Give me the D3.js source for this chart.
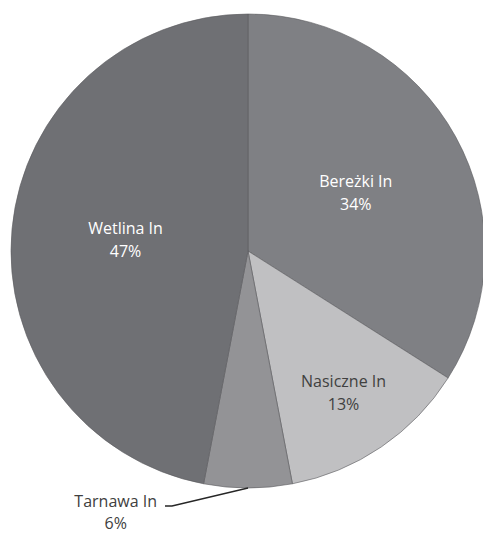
<!DOCTYPE html>
<html>
<head>
<meta charset="utf-8">
<script src="https://cdn.jsdelivr.net/npm/d3@7"></script>
<style>
  body { margin: 0; background: #fff; }
  svg text { font-family: "Open Sans", sans-serif; font-size: 16px; }
</style>
</head>
<body>
<svg id="chart" width="483" height="534"></svg>
<script>
var names = ["Bereżki In", "Nasiczne In", "Tarnawa In", "Wetlina In"];
var shares = [34, 13, 6, 47];
var colors = ["#7f8084", "#c0c0c2", "#939396", "#6f7074"];

var svg = d3.select("#chart"),
  cx = 248,
  cy = 251,
  radius = 237;

var data = names.map((n, i) => ({ name: n, value: shares[i], color: colors[i] }));

var pie = d3.pie().sort(null).value(d => d.value);
var arcs = pie(data);

var arc = d3.arc().innerRadius(0).outerRadius(radius);

var g = svg.append("g").attr("transform", `translate(${cx},${cy})`);

g.selectAll("path")
  .data(arcs)
  .enter()
  .append("path")
  .attr("d", arc)
  .attr("fill", d => d.data.color)
  .attr("stroke", "#5a5a5e")
  .attr("stroke-width", 0.6);

// label distance from centre for each slice (inside ones), Tarnawa goes outside
var labelR = { "Bereżki In": 123, "Nasiczne In": 170, "Wetlina In": 123 };
var textColor = { "Bereżki In": "#fff", "Wetlina In": "#fff", "Nasiczne In": "#404040" };

arcs.filter(d => labelR[d.data.name]).forEach(function(d) {
  var a = (d.startAngle + d.endAngle) / 2;
  var r = labelR[d.data.name];
  var x = Math.sin(a) * r, y = -Math.cos(a) * r;
  var t = g.append("text")
    .attr("text-anchor", "middle")
    .attr("fill", textColor[d.data.name]);
  t.append("tspan").attr("x", x).attr("y", y - 5).text(d.data.name);
  t.append("tspan").attr("x", x).attr("y", y + 18).text(d.data.value + "%");
});

// outside label with leader line
var out = arcs.find(d => d.data.name == "Tarnawa In");
var oa = (out.startAngle + out.endAngle) / 2;
var p0 = [Math.sin(oa) * radius, -Math.cos(oa) * radius];
var p1 = [172 - cx, 506 - cy];
var p2 = [165 - cx, 506 - cy];

g.append("polyline")
  .attr("points", [p0, p1, p2].map(p => p.join(",")).join(" "))
  .attr("fill", "none")
  .attr("stroke", "#262626")
  .attr("stroke-width", 1.3);

var ot = g.append("text").attr("text-anchor", "middle").attr("fill", "#404040");
var n1 = ot.append("tspan").attr("y", p2[1] + 1).text(out.data.name);
var w = n1.node().getComputedTextLength();
var mx = p2[0] - 8 - w / 2;
n1.attr("x", mx);
ot.append("tspan").attr("x", mx).attr("y", p2[1] + 23).text(out.data.value + "%");
</script>
</body>
</html>
